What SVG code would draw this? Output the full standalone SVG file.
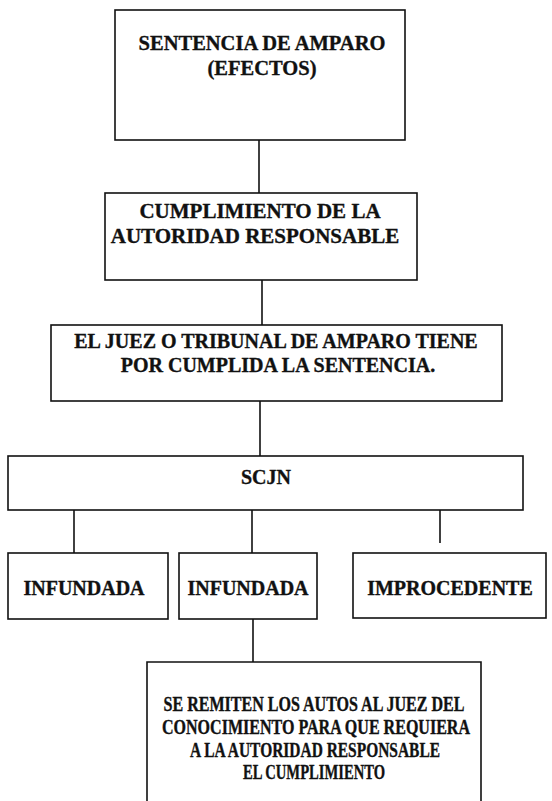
<svg xmlns="http://www.w3.org/2000/svg" width="552" height="801" viewBox="0 0 552 801">
<style>
.box{fill:none;stroke:#111;stroke-width:1.6}
.c{stroke:#111;stroke-width:1.6;fill:none}
text{font-family:"Liberation Serif","Times New Roman",serif;font-weight:bold;font-size:20px;fill:#111;stroke:#111;stroke-width:0.35;text-anchor:middle}
</style>
<rect width="552" height="801" fill="#fff"/>
<g id="connectors">
<line class="c" x1="259" y1="140" x2="259" y2="193"/>
<line class="c" x1="262" y1="280" x2="262" y2="325"/>
<line class="c" x1="260" y1="401" x2="260" y2="456"/>
<line class="c" x1="74" y1="510" x2="74" y2="553"/>
<line class="c" x1="252" y1="510" x2="252" y2="553"/>
<line class="c" x1="440" y1="510" x2="440" y2="543"/>
<line class="c" x1="253" y1="619" x2="253" y2="662"/>
</g>
<g id="n1">
<rect class="box" x="115" y="10" width="290" height="130"/>
<text x="262" y="50" style="font-size:20.5px">SENTENCIA DE AMPARO</text>
<text x="262" y="75" style="font-size:20.5px">(EFECTOS)</text>
</g>
<g id="n2">
<rect class="box" x="105" y="193" width="312" height="87"/>
<text x="260" y="218" style="font-size:21px">CUMPLIMIENTO DE LA</text>
<text x="255" y="243" style="font-size:21px">AUTORIDAD RESPONSABLE</text>
</g>
<g id="n3">
<rect class="box" x="51" y="325" width="451" height="76"/>
<text x="276" y="348">EL JUEZ O TRIBUNAL DE AMPARO TIENE</text>
<text x="278" y="372">POR CUMPLIDA LA SENTENCIA.</text>
</g>
<g id="n4">
<rect class="box" x="8" y="456" width="515" height="54"/>
<text x="266" y="484">SCJN</text>
</g>
<g id="n5">
<rect class="box" x="8" y="553" width="160" height="66"/>
<text x="84" y="595">INFUNDADA</text>
</g>
<g id="n6">
<rect class="box" x="179" y="553" width="138" height="66"/>
<text x="248" y="595">INFUNDADA</text>
</g>
<g id="n7">
<rect class="box" x="353" y="553" width="193" height="65"/>
<text x="450" y="595">IMPROCEDENTE</text>
</g>
<g id="n8">
<path class="box" d="M147,801 V662 H481 V801"/>
<text x="314" y="711" textLength="301" lengthAdjust="spacingAndGlyphs">SE REMITEN LOS AUTOS AL JUEZ DEL</text>
<text x="316" y="734" textLength="308" lengthAdjust="spacingAndGlyphs">CONOCIMIENTO PARA QUE REQUIERA</text>
<text x="315" y="757" textLength="250" lengthAdjust="spacingAndGlyphs">A LA AUTORIDAD RESPONSABLE</text>
<text x="314" y="779" textLength="142" lengthAdjust="spacingAndGlyphs">EL CUMPLIMIENTO</text>
</g>
</svg>
